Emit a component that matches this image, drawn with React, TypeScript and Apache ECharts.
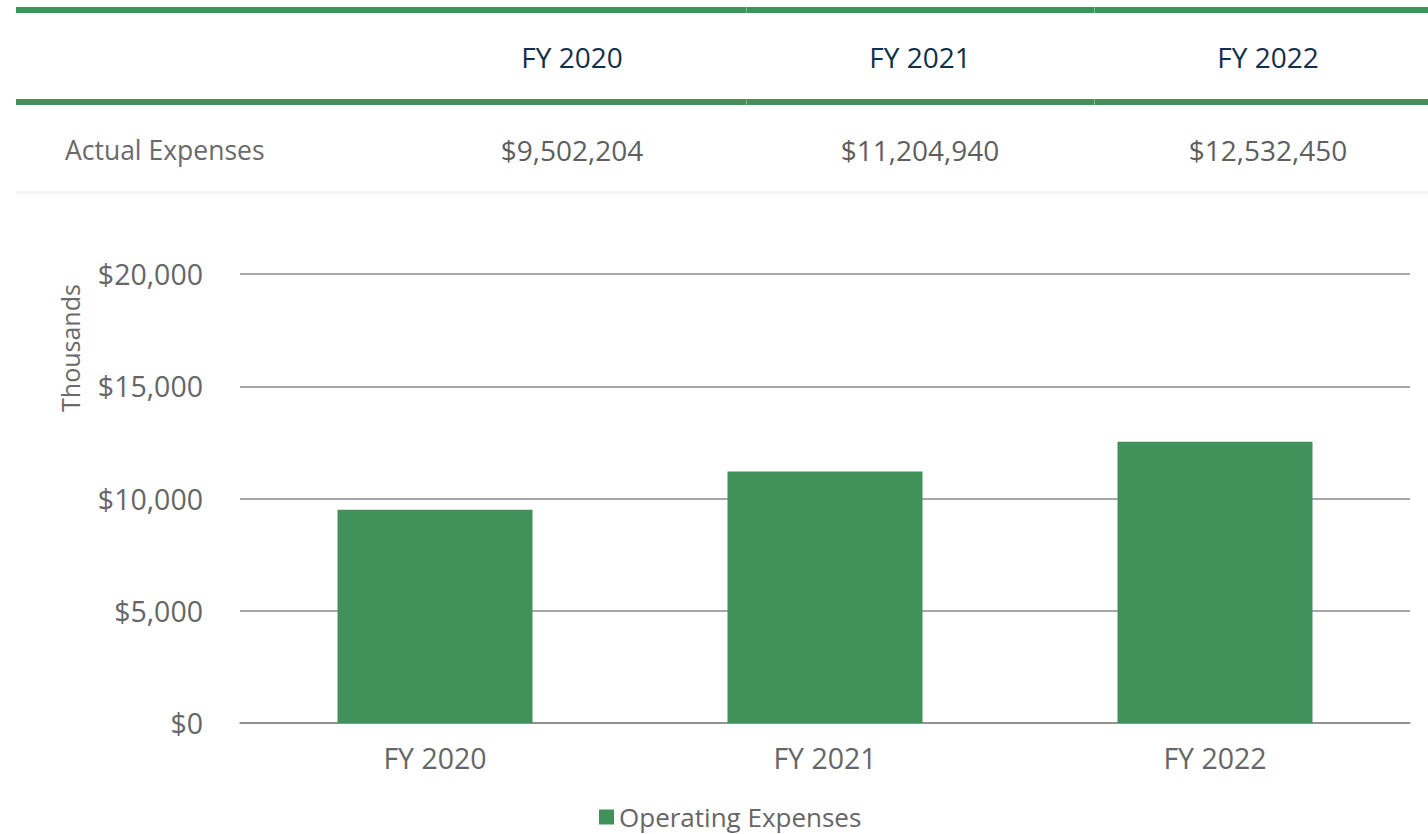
import React, { useEffect, useRef } from "react";
import * as echarts from "echarts";

const categories = ["FY 2020", "FY 2021", "FY 2022"];
const actualExpenses = [9502204, 11204940, 12532450];
const seriesName = "Operating Expenses";
const rowLabel = "Actual Expenses";
const yAxisName = "Thousands";

const GREEN = "#40915a";
const FONT = "'Open Sans', 'Noto Sans', sans-serif";

export default function App() {
  const ref = useRef<HTMLDivElement>(null);
  useEffect(() => {
    if (!ref.current) return;
    const chart = echarts.init(ref.current, undefined, { renderer: "svg" });
    const colCenters = [572, 920, 1268];
    const fmt = (v: number) => "$" + v.toLocaleString("en-US");
    const graphics: any[] = [
      { type: "rect", shape: { x: 16, y: 7, width: 1412, height: 6 }, style: { fill: GREEN } },
      { type: "rect", shape: { x: 16, y: 99, width: 1412, height: 6 }, style: { fill: GREEN } },
      { type: "rect", shape: { x: 16, y: 191, width: 1412, height: 3 }, style: { fill: "#f3f4f4" } },
      { type: "rect", shape: { x: 746, y: 7, width: 1, height: 6 }, style: { fill: "#7fb593" } },
      { type: "rect", shape: { x: 1094, y: 7, width: 1, height: 6 }, style: { fill: "#7fb593" } },
      { type: "rect", shape: { x: 746, y: 99, width: 1, height: 6 }, style: { fill: "#7fb593" } },
      { type: "rect", shape: { x: 1094, y: 99, width: 1, height: 6 }, style: { fill: "#7fb593" } },
      {
        type: "text",
        x: 65,
        y: 150,
        style: { text: rowLabel, fontSize: 26.5, fill: "#6a6a6a", fontFamily: FONT, textVerticalAlign: "middle" },
      },
      {
        type: "text",
        x: 70,
        y: 348,
        rotation: Math.PI / 2,
        style: { text: yAxisName, fontSize: 25, fill: "#6a6a6a", fontFamily: FONT, textAlign: "center", textVerticalAlign: "middle" },
      },
    ];
    categories.forEach((c, i) => {
      graphics.push({
        type: "text",
        x: colCenters[i],
        y: 57,
        style: { text: c, fontSize: 28, fill: "#13304a", fontFamily: FONT, textAlign: "center", textVerticalAlign: "middle" },
      });
      graphics.push({
        type: "text",
        x: colCenters[i],
        y: 150,
        style: { text: fmt(actualExpenses[i]), fontSize: 28, fill: "#5f5f5f", fontFamily: FONT, textAlign: "center", textVerticalAlign: "middle" },
      });
    });

    chart.setOption({
      animation: false,
      backgroundColor: "#ffffff",
      textStyle: { fontFamily: FONT },
      graphic: graphics,
      grid: { left: 240, right: 18, top: 274, bottom: 111, containLabel: false },
      legend: {
        data: [seriesName],
        left: 599,
        top: 802,
        padding: 0,
        icon: "rect",
        itemWidth: 15,
        itemHeight: 15,
        itemGap: 6,
        textStyle: { fontSize: 26, lineHeight: 30, color: "#666666", fontFamily: FONT, padding: [0, 0, 0, 0] },
      },
      xAxis: {
        type: "category",
        data: categories,
        axisTick: { show: false },
        axisLine: { lineStyle: { color: "#8a8a8a", width: 1.5 } },
        axisLabel: { fontSize: 28.5, color: "#666666", margin: 20, fontFamily: FONT },
      },
      yAxis: {
        type: "value",
        min: 0,
        max: 20000,
        interval: 5000,
        axisLine: { show: false },
        axisTick: { show: false },
        splitLine: { lineStyle: { color: "#8a8a8a", width: 1.5 } },
        axisLabel: {
          fontSize: 28.5,
          color: "#666666",
          margin: 37,
          fontFamily: FONT,
          formatter: (v: number) => "$" + v.toLocaleString("en-US"),
        },
      },
      series: [
        {
          name: seriesName,
          type: "bar",
          data: actualExpenses.map((v) => v / 1000),
          barWidth: "50%",
          itemStyle: { color: GREEN },
        },
      ],
    });
    return () => chart.dispose();
  }, []);
  return (
    <div
      ref={ref}
      style={{ position: "fixed", left: 0, top: 0, width: 1428, height: 834, background: "#fff" }}
    />
  );
}
